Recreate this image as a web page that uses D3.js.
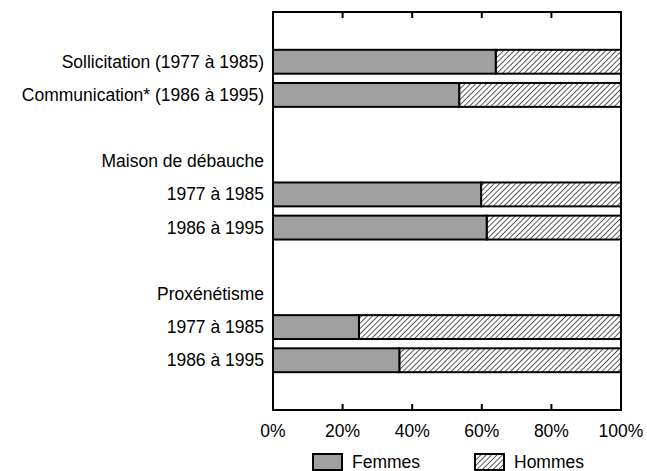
<!DOCTYPE html>
<html>
<head>
<meta charset="utf-8">
<script src="https://cdn.jsdelivr.net/npm/d3@7"></script>
<style>
  body { margin: 0; background: #fff; }
  svg { display: block; font-family: "Liberation Sans", Arial, sans-serif; }
</style>
</head>
<body>
<div id="chart"></div>
<script>
// rows of the chart, top to bottom (headers and blank rows included)
const rows = ['blank0', 'sol', 'com', 'blank1', 'hMaison', 'mai77', 'mai86', 'blank2', 'hProx', 'pro77', 'pro86', 'blank3'];
const rowLabels = ['', 'Sollicitation (1977 à 1985)', 'Communication* (1986 à 1995)', '',
  'Maison de débauche', '1977 à 1985', '1986 à 1995', '',
  'Proxénétisme', '1977 à 1985', '1986 à 1995', ''];
const barRows = ['sol', 'com', 'mai77', 'mai86', 'pro77', 'pro86'];
const femmes = [0.64, 0.535, 0.598, 0.614, 0.247, 0.363];
const ticks = [0, 0.2, 0.4, 0.6, 0.8, 1];
const legendItems = ['Femmes', 'Hommes'];

const W = 647, H = 471;
const plot = { left: 273, right: 621, top: 12, bottom: 410 };
const fs = 17.5;

const svg = d3.select('#chart').append('svg')
    .attr('width', W)
    .attr('height', H);

// hatch pattern for Hommes
const hs = 3.8;
const pat = svg.append('defs').append('pattern')
    .attr('id', 'hatch')
    .attr('patternUnits', 'userSpaceOnUse')
    .attr('width', hs)
    .attr('height', hs)
    .attr('patternTransform', 'rotate(45)');
pat.append('rect').attr('width', hs).attr('height', hs).attr('fill', '#fff');
pat.append('line')
    .attr('x1', 0).attr('y1', 0).attr('x2', 0).attr('y2', hs)
    .attr('stroke', '#000').attr('stroke-width', 1.3);

const x = d3.scaleLinear().domain([0, 1]).range([plot.left, plot.right]);
const y = d3.scaleBand().domain(rows).range([plot.top, plot.bottom]).paddingInner(0.28).paddingOuter(0.14);

const data = barRows.map((r, i) => ({ row: r, f: femmes[i] }));

// Hommes (hatched)
svg.append('g').selectAll('rect')
    .data(data)
    .enter()
    .append('rect')
    .attr('x', d => x(d.f))
    .attr('y', d => y(d.row))
    .attr('width', d => x(1) - x(d.f))
    .attr('height', y.bandwidth())
    .attr('fill', 'url(#hatch)')
    .attr('stroke', '#000')
    .attr('stroke-width', 2);

// Femmes (grey)
svg.append('g').selectAll('rect')
    .data(data)
    .enter()
    .append('rect')
    .attr('x', x(0))
    .attr('y', d => y(d.row))
    .attr('width', d => x(d.f) - x(0))
    .attr('height', y.bandwidth())
    .attr('fill', '#a0a0a0')
    .attr('stroke', '#000')
    .attr('stroke-width', 2);

// frame
svg.append('rect')
    .attr('x', plot.left)
    .attr('y', plot.top)
    .attr('width', plot.right - plot.left)
    .attr('height', plot.bottom - plot.top)
    .attr('fill', 'none')
    .attr('stroke', '#000')
    .attr('stroke-width', 2);

// inward ticks top and bottom
const inner = ticks.slice(1, -1);
svg.append('g').selectAll('line')
    .data(inner)
    .enter()
    .append('line')
    .attr('x1', d => x(d)).attr('x2', d => x(d))
    .attr('y1', plot.bottom).attr('y2', plot.bottom - 6)
    .attr('stroke', '#000').attr('stroke-width', 2);
svg.append('g').selectAll('line')
    .data(inner)
    .enter()
    .append('line')
    .attr('x1', d => x(d)).attr('x2', d => x(d))
    .attr('y1', plot.top).attr('y2', plot.top + 6)
    .attr('stroke', '#000').attr('stroke-width', 2);

// tick labels
svg.append('g').selectAll('text')
    .data(ticks)
    .enter()
    .append('text')
    .attr('x', d => x(d))
    .attr('y', 437)
    .attr('text-anchor', 'middle')
    .attr('font-size', fs)
    .text(d3.format('.0%'));

// row labels
svg.append('g').selectAll('text')
    .data(rows)
    .enter()
    .append('text')
    .attr('x', 264)
    .attr('y', d => y(d) + y.bandwidth() / 2 + 6)
    .attr('text-anchor', 'end')
    .attr('font-size', fs)
    .text((d, i) => rowLabels[i]);

// legend
const legend = svg.append('g');
const lx = [313, 475];
legendItems.forEach((name, i) => {
  legend.append('rect')
      .attr('x', lx[i])
      .attr('y', 454)
      .attr('width', 29)
      .attr('height', 16)
      .attr('fill', i === 0 ? '#a0a0a0' : 'url(#hatch)')
      .attr('stroke', '#000')
      .attr('stroke-width', 2);
  legend.append('text')
      .attr('x', lx[i] + 39)
      .attr('y', 468)
      .attr('font-size', fs)
      .text(name);
});
</script>
</body>
</html>
